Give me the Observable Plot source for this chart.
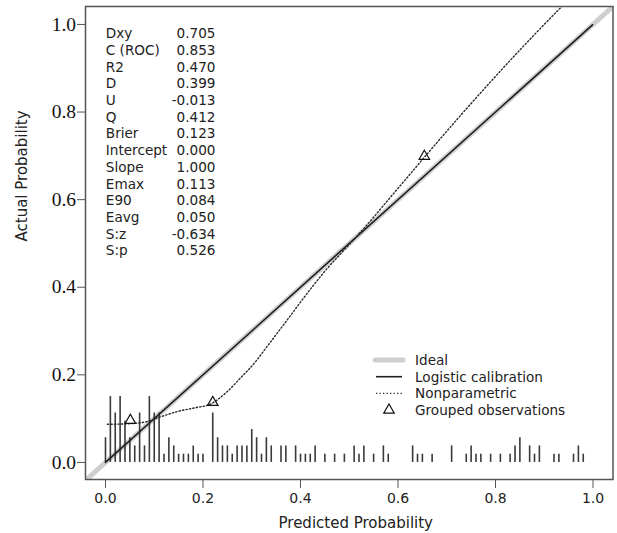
<!DOCTYPE html>
<html>
<head>
<meta charset="utf-8">
<script src="https://cdn.jsdelivr.net/npm/d3@7"></script>
<script src="https://cdn.jsdelivr.net/npm/@observablehq/plot@0.6"></script>
<style>
  html, body { margin: 0; padding: 0; background: #fff; }
  #chart { position: relative; width: 617px; height: 533px; }
  #legend { position: absolute; left: 0; top: 0; pointer-events: none; }
</style>
</head>
<body>
<div id="chart"></div>
<script>
// ---- Data ----
const xDomain = [-0.041, 1.041];
const yDomain = [-0.039, 1.041];
const xTicks = [0, 0.2, 0.4, 0.6, 0.8, 1.0];
const yTicks = [0, 0.2, 0.4, 0.6, 0.8, 1.0];

// Spike histogram of predicted probabilities (bin position, count)
const rugX = [0.00,0.01,0.02,0.03,0.04,0.05,0.06,0.07,0.08,0.09,0.10,0.11,0.12,0.13,0.14,0.15,0.16,0.17,0.18,0.19,0.20,
              0.22,0.23,0.24,0.25,0.26,0.27,0.28,0.29,0.30,0.31,0.32,0.33,0.34,0.36,0.37,0.39,0.40,0.41,0.42,0.43,0.45,0.47,
              0.49,0.51,0.52,0.53,0.55,0.57,0.58,0.63,0.64,0.65,0.67,0.71,0.74,0.75,0.76,0.77,0.79,0.81,0.83,0.84,0.85,
              0.87,0.88,0.89,0.92,0.93,0.96,0.97,0.98];
const rugN = [3,8,6,8,5,3,2,6,2,8,6,6,1,3,2,1,1,1,2,1,1,
              6,3,2,2,1,2,2,2,4,3,1,3,2,2,2,2,1,1,1,2,1,1,
              1,2,1,2,1,2,1,2,1,1,1,2,1,2,1,1,1,1,1,2,3,
              2,1,2,1,1,1,2,1];
const spikeUnit = 0.0188; // height of one count in probability units

// Logistic calibration (intercept 0, slope 1) over range of predictions
const logisticX = [0.0, 0.999];
const logisticY = [0.0, 0.999];

// Nonparametric (lowess) calibration curve
const npX = [0.004,0.04,0.08,0.11,0.15,0.185,0.215,0.25,0.277,0.304,0.331,0.359,0.38,0.40,0.427,0.451,0.482,0.516,0.55,0.584,0.62,0.655,0.721,0.789,0.857,0.936,0.96];
const npY = [0.087,0.088,0.092,0.103,0.117,0.125,0.133,0.162,0.193,0.225,0.264,0.305,0.336,0.366,0.405,0.438,0.476,0.517,0.560,0.605,0.652,0.698,0.783,0.868,0.950,1.041,1.068];

// Grouped observations
const groupX = [0.051, 0.220, 0.654];
const groupY = [0.096, 0.137, 0.699];

// Statistics panel
const statLabels = ["Dxy","C (ROC)","R2","D","U","Q","Brier","Intercept","Slope","Emax","E90","Eavg","S:z","S:p"];
const statValues = ["0.705","0.853","0.470","0.399","-0.013","0.412","0.123","0.000","1.000","0.113","0.084","0.050","-0.634","0.526"];

const legendLabels = ["Ideal","Logistic calibration","Nonparametric","Grouped observations"];

// ---- Build tables ----
const rug = rugX.map((x, i) => ({x, h: rugN[i] * spikeUnit}));
const ideal = xDomain.map(v => ({x: v, y: v}));
const logistic = logisticX.map((x, i) => ({x, y: logisticY[i]}));
const np = npX.map((x, i) => ({x, y: npY[i]}));
const groups = groupX.map((x, i) => ({x, y: groupY[i]}));

const sans = "DejaVu Sans, sans-serif";
const fmt = d3.format(".1f");

const plot = Plot.plot({
  width: 617,
  height: 533,
  marginLeft: 85,
  marginRight: 4.5,
  marginTop: 6,
  marginBottom: 54,
  x: {domain: xDomain},
  y: {domain: yDomain},
  style: {background: "white", color: "#111"},
  marks: [
    Plot.line(ideal, {x: "x", y: "y", stroke: "#cfcfcf", strokeWidth: 5, clip: true}),
    Plot.ruleX(rug, {x: "x", y1: 0, y2: "h", stroke: "#3a3a3a", strokeWidth: 1.6}),
    Plot.line(logistic, {x: "x", y: "y", stroke: "#1e1e1e", strokeWidth: 1.6}),
    Plot.line(np, {x: "x", y: "y", stroke: "#2a2a2a", strokeWidth: 1.4, strokeDasharray: "1.3,2.2", curve: "monotone-x", clip: true}),
    Plot.dot(groups, {x: "x", y: "y", symbol: "triangle", r: 3.9, stroke: "#111", strokeWidth: 1.2, fill: "none"}),
    Plot.text([statLabels.join("\n")], {
      text: d => d, frameAnchor: "top-left", dx: 20.3, dy: 19.8,
      lineAnchor: "top", textAnchor: "start", lineHeight: 1.229,
      fontSize: 13.6, fontFamily: sans, fill: "#222"
    }),
    Plot.text([statValues.join("\n")], {
      text: d => d, frameAnchor: "top-left", dx: 130, dy: 19.8,
      lineAnchor: "top", textAnchor: "end", lineHeight: 1.229,
      fontSize: 13.6, fontFamily: sans, fill: "#222"
    }),
    Plot.axisX({ticks: xTicks, tickSize: 9, tickPadding: 5, tickFormat: fmt, label: null,
      fontSize: 14, fontFamily: sans, stroke: "#555", fill: "#222"}),
    Plot.axisY({ticks: yTicks, tickSize: 8, tickPadding: 1.5, tickFormat: fmt, label: null,
      fontSize: 19.5, fontFamily: "Liberation Serif, serif", stroke: "#555", fill: "#111"}),
    Plot.text(["Predicted Probability"], {text: d => d, frameAnchor: "bottom", dx: 6.5, dy: 44,
      lineAnchor: "middle", fontSize: 15, fontFamily: sans, fill: "#222"}),
    Plot.text(["Actual Probability"], {text: d => d, frameAnchor: "left", dx: -63.3, dy: -1.5,
      rotate: -90, lineAnchor: "middle", fontSize: 15, fontFamily: sans, fill: "#222"}),
    Plot.frame({stroke: "#555", strokeWidth: 1.5})
  ]
});

const chart = document.getElementById("chart");
chart.appendChild(plot);

// ---- Legend (inside the plot area, lower right) ----
const lg = d3.select(chart).append("svg").attr("id", "legend")
  .attr("width", 617).attr("height", 533);
const rowY = [360, 376.7, 393.4, 410.1];
const sx0 = 375, sx1 = 403, tx = 415;
legendLabels.forEach((lab, i) => {
  const y = rowY[i];
  if (i === 0) lg.append("line").attr("x1", sx0).attr("x2", sx1).attr("y1", y).attr("y2", y)
      .attr("stroke", "#cfcfcf").attr("stroke-width", 5).attr("stroke-linecap", "round");
  if (i === 1) lg.append("line").attr("x1", sx0 + 1).attr("x2", sx1 - 1).attr("y1", y).attr("y2", y)
      .attr("stroke", "#1e1e1e").attr("stroke-width", 1.6);
  if (i === 2) lg.append("line").attr("x1", sx0 + 1).attr("x2", sx1 - 1).attr("y1", y).attr("y2", y)
      .attr("stroke", "#2a2a2a").attr("stroke-width", 1.4).attr("stroke-dasharray", "1.3,2.2");
  if (i === 3) lg.append("path").attr("transform", `translate(${(sx0 + sx1) / 2},${y})`)
      .attr("d", d3.symbol(d3.symbolTriangle, Math.PI * 3.9 * 3.9)())
      .attr("fill", "none").attr("stroke", "#111").attr("stroke-width", 1.2);
  lg.append("text").attr("x", tx).attr("y", y).attr("dy", "0.36em")
    .attr("font-family", sans).attr("font-size", 13.6).attr("fill", "#222").text(lab);
});
</script>
</body>
</html>
